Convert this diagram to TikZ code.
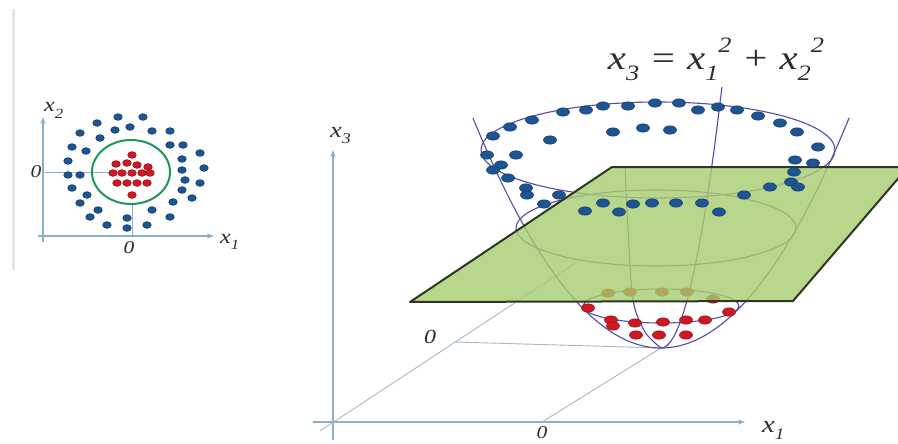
\documentclass[tikz,border=0pt]{standalone}
\usepackage{fontspec}
\setmainfont{Liberation Serif}
\usetikzlibrary{arrows.meta}
\definecolor{axisblue}{RGB}{140,175,200}
\definecolor{guidegray}{RGB}{165,185,200}
\definecolor{paraline}{RGB}{85,75,165}
\definecolor{planegreen}{RGB}{168,205,112}
\definecolor{planeedge}{RGB}{45,55,35}
\definecolor{dotblue}{RGB}{28,85,145}
\definecolor{dotblueedge}{RGB}{20,55,105}
\definecolor{dotred}{RGB}{205,25,35}
\definecolor{dotrededge}{RGB}{150,10,20}
\definecolor{circlegreen}{RGB}{30,150,90}
\definecolor{txtgray}{RGB}{45,45,45}
\newcommand\lowtxt[2]{\raisebox{-0.3em}{\fontsize{#1}{#1}\selectfont #2}}
\newcommand\hightxt[2]{\raisebox{0.5em}{\fontsize{#1}{#1}\selectfont #2}}
\begin{document}
\begin{tikzpicture}[x=1pt,y=-1pt,
  axis/.style={draw=axisblue, line width=1.2pt, -{Stealth[length=7pt,width=5pt]}},
  guide/.style={draw=guidegray, line width=0.9pt},
  para/.style={draw=paraline, line width=1.1pt},
  lbl/.style={inner sep=0pt, text=txtgray},
  bdotL/.style={fill=dotblue, draw=dotblueedge, line width=0.5pt},
  rdotL/.style={fill=dotred, draw=dotrededge, line width=0.5pt}]
\useasboundingbox (0,0) rectangle (898,444);
\clip (0,0) rectangle (898,444);
\fill[white] (0,0) rectangle (898,444);
% faint border of left panel
\draw[black!10, line width=3pt] (13,9) -- (13,270);

% ---------- left panel ----------
\coordinate (la0) at (43,242);
\coordinate (la1) at (43,117);
\coordinate (lb0) at (38,236);
\coordinate (lb1) at (214,236);
\coordinate (lg1) at (45,172);
\coordinate (lg2) at (112,172);
\coordinate (lg3) at (132,203);
\coordinate (lg4) at (132,236);
\draw[axis] (la0) -- (la1);
\draw[axis] (lb0) -- (lb1);
\draw[guide, draw=axisblue] (lg1) -- (lg2);
\draw[guide, draw=axisblue] (lg3) -- (lg4);
\draw[circlegreen, line width=2pt] (131,172) ellipse [x radius=39pt, y radius=32pt];
\foreach \px/\py in {118/117,143/117,97/123,115/130,130/127,152/131,170/131,80/133,100/138,170/145,183/145,72/147,86/151,182/159,200/153,68/161,182/170,204/168,68/175,80/175,185/180,200/183,72/188,87/195,182/190,173/202,192/198,80/203,98/210,90/217,152/210,127/218,170/217,107/225,127/228,147/225}
  \filldraw[bdotL] (\px,\py) ellipse [x radius=4.3pt, y radius=3.4pt];
\foreach \px/\py in {132/155,116/164,127/163,137/165,148/167,113/173,122/173,132/173,142/173,150/173,117/183,127/183,137/183,147/183,132/195}
  \filldraw[rdotL] (\px,\py) ellipse [x radius=4.3pt, y radius=3.4pt];
\node[lbl, anchor=base west] (lx2) at (44,112) {\scalebox{1.2}[1]{\fontsize{20}{20}\selectfont\itshape x\lowtxt{14}{2}}};
\node[lbl, anchor=base west] (lx1) at (220,243) {\scalebox{1.2}[1]{\fontsize{20}{20}\selectfont\itshape x\lowtxt{14}{1}}};
\node[lbl] (l0a) at (36,172) {\scalebox{1.2}[1]{\fontsize{18}{18}\selectfont\itshape 0}};
\node[lbl] (l0b) at (129,248) {\scalebox{1.2}[1]{\fontsize{18}{18}\selectfont\itshape 0}};

% ---------- right panel ----------
\coordinate (ro) at (333,422);
\coordinate (rz0) at (333,440);
\coordinate (rz1) at (333,150);
\coordinate (rx0) at (313,422);
\coordinate (rx1) at (745,422);
\coordinate (rd0) at (320,431);
\coordinate (rd1) at (583,258);
\coordinate (rx1zero) at (542,422);
\coordinate (vtx) at (661,348);
\coordinate (rh0) at (455,342);
\draw[axis] (rz0) -- (rz1);
\draw[axis] (rx0) -- (rx1);
\draw[guide] (rd0) -- (rd1);
\draw[guide] (rx1zero) -- (vtx);
\draw[guide] (rh0) -- (vtx);

% paraboloid
\draw[para] plot[domain=-15.17:15.17, samples=90, smooth] ({661+12.4*\x},{348-\x*\x});
\draw[para] plot[domain=0:16.16, samples=40, smooth] ({661+3.77*\x},{348-\x*\x});
\draw[para] plot[smooth] coordinates {(625,168) (628,230) (633,300) (645,332) (661,348)};
\draw[para] (658,150) ellipse [x radius=177pt, y radius=48pt];
\draw[para] (656,228) ellipse [x radius=140pt, y radius=38pt];
\draw[para] (661,306) ellipse [x radius=78pt, y radius=17pt];

% red points
\foreach \px/\py in {608/293,630/292,662/292,687/292,713/299,588/308,611/320,613/326,635/323,663/322,686/320,705/320,729/312,636/335,659/335,686/335}
  \filldraw[rdotL] (\px,\py) ellipse [x radius=6.5pt, y radius=4.2pt];

% separating plane
\filldraw[fill=planegreen, fill opacity=0.8, draw=planeedge, line width=2pt, line join=round]
  (612,167) -- (908,167) -- (793,301) -- (410,302) -- cycle;

% blue points
\foreach \px/\py in {493/136,510/127,532/120,563/112,586/110,603/106,628/106,655/103,679/103,698/110,718/107,737/110,758/116,780/123,797/132,818/147,550/140,613/132,643/128,670/130,487/155,516/155,501/165,493/170,508/178,526/188,527/195,559/195,544/204,585/211,603/203,619/212,633/204,652/203,676/203,702/203,719/212,744/195,770/187,791/182,798/187,794/172,795/160,813/163}
  \filldraw[bdotL] (\px,\py) ellipse [x radius=6.5pt, y radius=4.2pt];

\node[lbl, anchor=base west] (rx3) at (330,137) {\scalebox{1.2}[1]{\fontsize{22}{22}\selectfont\itshape x\lowtxt{15}{3}}};
\node[lbl, anchor=base west] (rxl) at (762,432) {\scalebox{1.2}[1]{\fontsize{24}{24}\selectfont\itshape x\lowtxt{16}{1}}};
\node[lbl] (r0a) at (430,337) {\scalebox{1.2}[1]{\fontsize{20}{20}\selectfont\itshape 0}};
\node[lbl] (r0b) at (542,433) {\scalebox{1.2}[1]{\fontsize{18}{18}\selectfont\itshape 0}};
\node[lbl, anchor=base] (formula) at (716,70) {\scalebox{1.2}[1]{\fontsize{34}{40}\selectfont\itshape x\lowtxt{22}{3} = x\lowtxt{22}{1}\hightxt{22}{2} + x\lowtxt{22}{2}\hightxt{22}{2}}};
\end{tikzpicture}
\end{document}
